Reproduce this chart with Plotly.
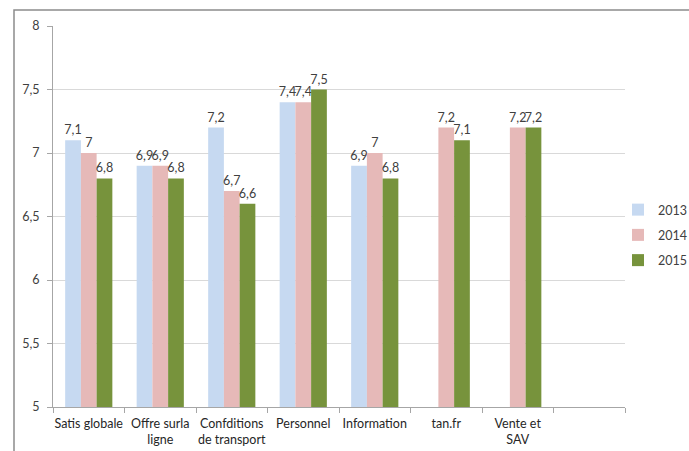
import plotly.graph_objects as go

# Survey satisfaction scores by theme (scale 5-8 shown)
categories = ["Satis globale", "Offre surla<br>ligne", "Confditions<br>de transport",
              "Personnel", "Information", "tan.fr", "Vente et<br>SAV"]
axis_slots = categories + [" "]
years = ["2013", "2014", "2015"]
scores_2013 = [7.1, 6.9, 7.2, 7.4, 6.9, None, None]
scores_2014 = [7.0, 6.9, 6.7, 7.4, 7.0, 7.2, 7.2]
scores_2015 = [6.8, 6.8, 6.6, 7.5, 6.8, 7.1, 7.2]
colors = ["#C6D9F1", "#E6B9B8", "#77933C"]

FONT = "Lato, Calibri, 'Open Sans', sans-serif"


def fr_label(v):
    return "" if v is None else f"{v:g}".replace(".", ",")


fig = go.Figure()
for year, vals, col in zip(years, [scores_2013, scores_2014, scores_2015], colors):
    fig.add_trace(go.Bar(
        name=year,
        x=categories,
        y=vals,
        base=0,
        marker=dict(color=col, line=dict(width=0)),
        text=[fr_label(v) for v in vals],
        textposition="outside",
        textfont=dict(family=FONT, size=12.5, color="#404040"),
        constraintext="none",
        cliponaxis=False,
        legendgroup=year,
    ))

W, H = 689, 451
L, R, T, B = 53, 64, 26, 44
pw, ph = W - L - R, H - T - B

fig.update_layout(
    width=W, height=H,
    margin=dict(l=L, r=R, t=T, b=B, pad=0, autoexpand=False),
    paper_bgcolor="white", plot_bgcolor="white",
    barmode="group", bargap=0.34, bargroupgap=0,
    separators=", ",
    font=dict(family=FONT, size=12, color="#404040"),
    showlegend=True,
    legend=dict(
        x=(618 - L) / pw, xanchor="left",
        y=(H - B - 235) / ph, yanchor="middle",
        font=dict(family=FONT, size=12.5, color="#404040"),
        tracegroupgap=6, bgcolor="rgba(0,0,0,0)",
    ),
    xaxis=dict(
        type="category", categoryorder="array", categoryarray=axis_slots,
        range=[-0.5, 7.5], tickson="boundaries", tickangle=0, automargin=False,
        ticks="outside", ticklen=5, tickcolor="#A6A6A6", ticklabelstandoff=5,
        showline=True, linecolor="#A6A6A6", linewidth=1,
        showgrid=False, tickfont=dict(family=FONT, size=12.5, color="#262626"),
    ),
    yaxis=dict(
        range=[5, 8], dtick=0.5, tick0=5, automargin=False,
        ticks="outside", ticklen=5, tickcolor="#A6A6A6", ticklabelstandoff=5,
        showline=True, linecolor="#A6A6A6", linewidth=1,
        showgrid=True, gridcolor="#D9D9D9", gridwidth=1,
        zeroline=False, tickfont=dict(family=FONT, size=12.5, color="#404040"),
    ),
    shapes=[dict(
        type="path", xref="paper", yref="paper",
        path=f"M {(14 - L) / pw},{-0.3} L {(14 - L) / pw},{1 + (T - 10) / ph} L 1.3,{1 + (T - 10) / ph}",
        line=dict(color="#8C8C8C", width=1.5),
    )],
)

fig.write_html("out.html")
